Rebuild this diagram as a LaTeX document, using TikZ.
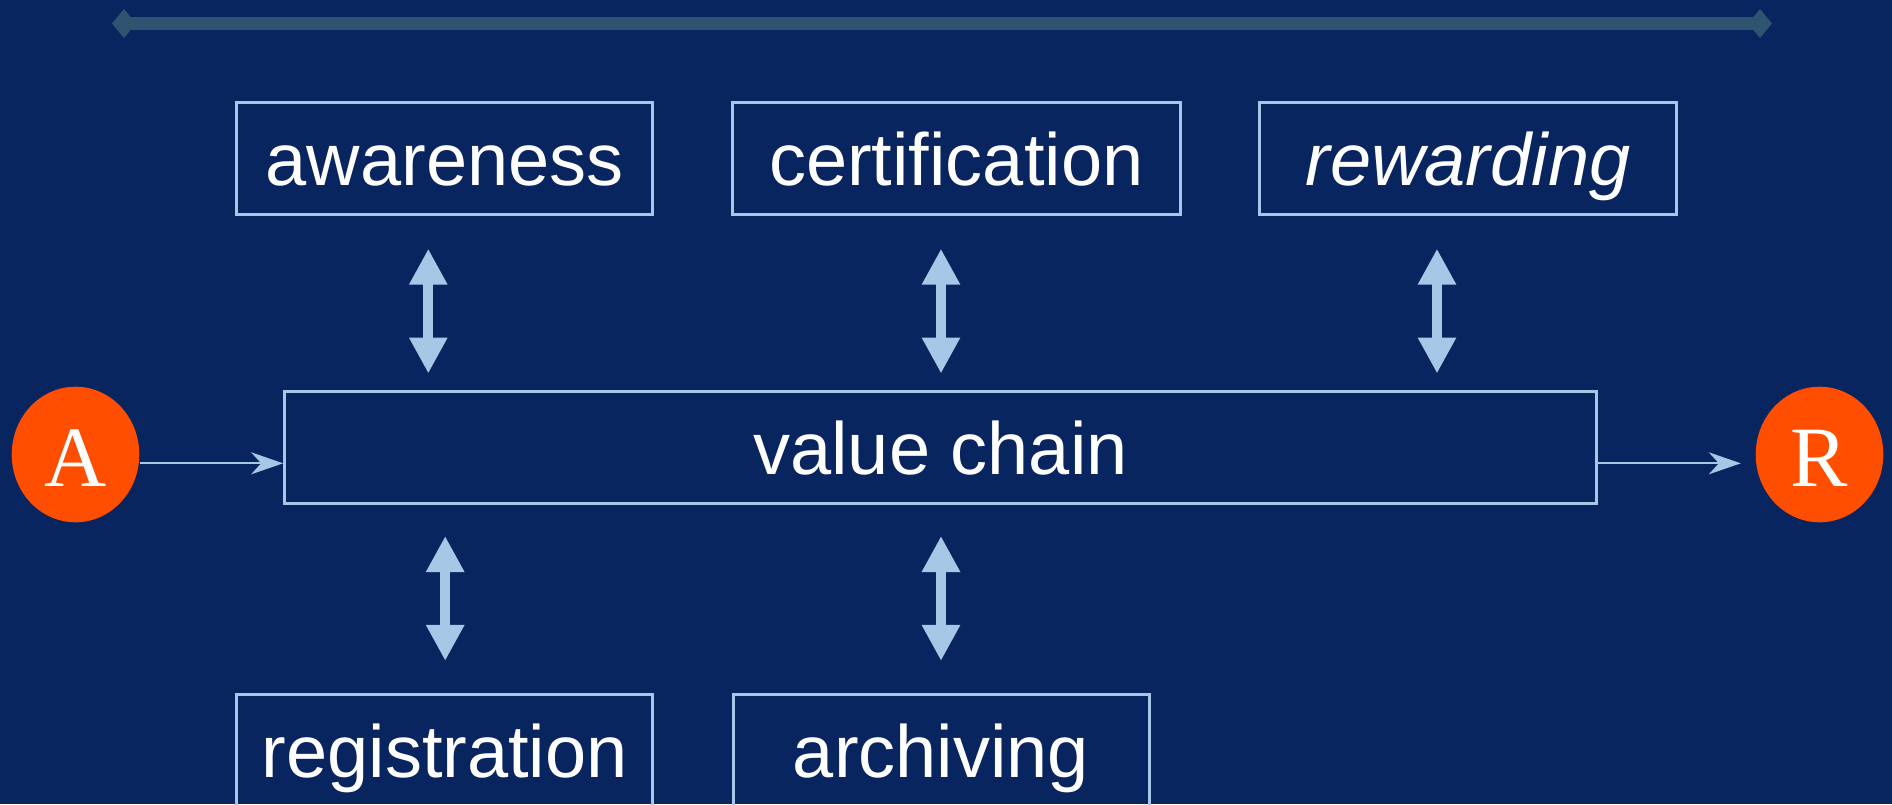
\documentclass[tikz,border=0pt]{standalone}
\usepackage{fontspec}
\setmainfont{Liberation Sans}
\newfontfamily\serifA{Liberation Serif}
\usetikzlibrary{arrows.meta,shapes.geometric}
\definecolor{bg}{RGB}{8,37,96}
\definecolor{lblue}{RGB}{166,199,230}
\definecolor{orng}{RGB}{255,78,0}
\definecolor{barc}{RGB}{46,84,112}
\begin{document}
\begin{tikzpicture}[x=1pt,y=-1pt,
  box/.style={draw=lblue,line width=3pt,inner sep=0pt,minimum height=112pt,text=white,
    font=\fontsize{74}{80}\selectfont,text height=62pt,text depth=8pt},
  agent/.style={ellipse,fill=orng,minimum width=127.6pt,minimum height=135.6pt,inner sep=0pt,
    text=white,font=\serifA\fontsize{86}{90}\selectfont,text height=64pt,text depth=0pt},
  conn/.style={draw=lblue,line width=2pt,-{Stealth[length=32pt,width=22pt,inset=10pt]}},
  dbl/.style={draw=lblue,line width=10pt,{Triangle[length=36pt,width=36pt]}-{Triangle[length=36pt,width=36pt]}},
  topbar/.style={draw=barc,line width=13pt,{Diamond[length=24pt,width=29pt]}-{Diamond[length=24pt,width=29pt]}}]
\fill[bg] (0,0) rectangle (1892,804);
\useasboundingbox (0,0) rectangle (1892,804);
% top bar
\coordinate (barL) at (112,23.5);
\coordinate (barR) at (1772,23.5);
\draw[topbar] (barL) -- (barR);
% boxes
\node[box,minimum width=416.3pt] (aw) at (444.6,158.7) {awareness};
\node[box,minimum width=447.7pt] (ce) at (956.2,158.7) {certification};
\node[box,minimum width=416.3pt] (rw) at (1467.9,158.7) {\itshape rewarding};
\node[box,minimum width=1311.9pt] (vc) at (940.6,447) {value chain};
\node[box,minimum width=416.5pt] (rg) at (444.7,750) {registration};
\node[box,minimum width=416pt] (ar) at (941,750) {archiving};
% agents
\node[agent] (A) at (75.5,454.5) {A};
\node[agent] (R) at (1819.5,454.5) {R};
% double arrows
\draw[dbl,shorten <=32.5pt,shorten >=16pt] ([xshift=-16.3pt]aw.south) -- ([xshift=-16.3pt]aw.south |- vc.north);
\draw[dbl,shorten <=32.5pt,shorten >=16pt] ([xshift=-15.2pt]ce.south) -- ([xshift=-15.2pt]ce.south |- vc.north);
\draw[dbl,shorten <=32.5pt,shorten >=16pt] ([xshift=-30.9pt]rw.south) -- ([xshift=-30.9pt]rw.south |- vc.north);
\draw[dbl,shorten <=31.5pt,shorten >=31.6pt] ([xshift=0.5pt]rg.north |- vc.south) -- ([xshift=0.5pt]rg.north);
\draw[dbl,shorten <=31.5pt,shorten >=31.6pt] (ar.north |- vc.south) -- (ar.north);
% flow
\coordinate (ly) at (0,463.3);
\draw[conn] (A.east |- ly) -- (vc.west |- ly);
\draw[conn,shorten >=14.7pt] (vc.east |- ly) -- (R.west |- ly);
\end{tikzpicture}
\end{document}
